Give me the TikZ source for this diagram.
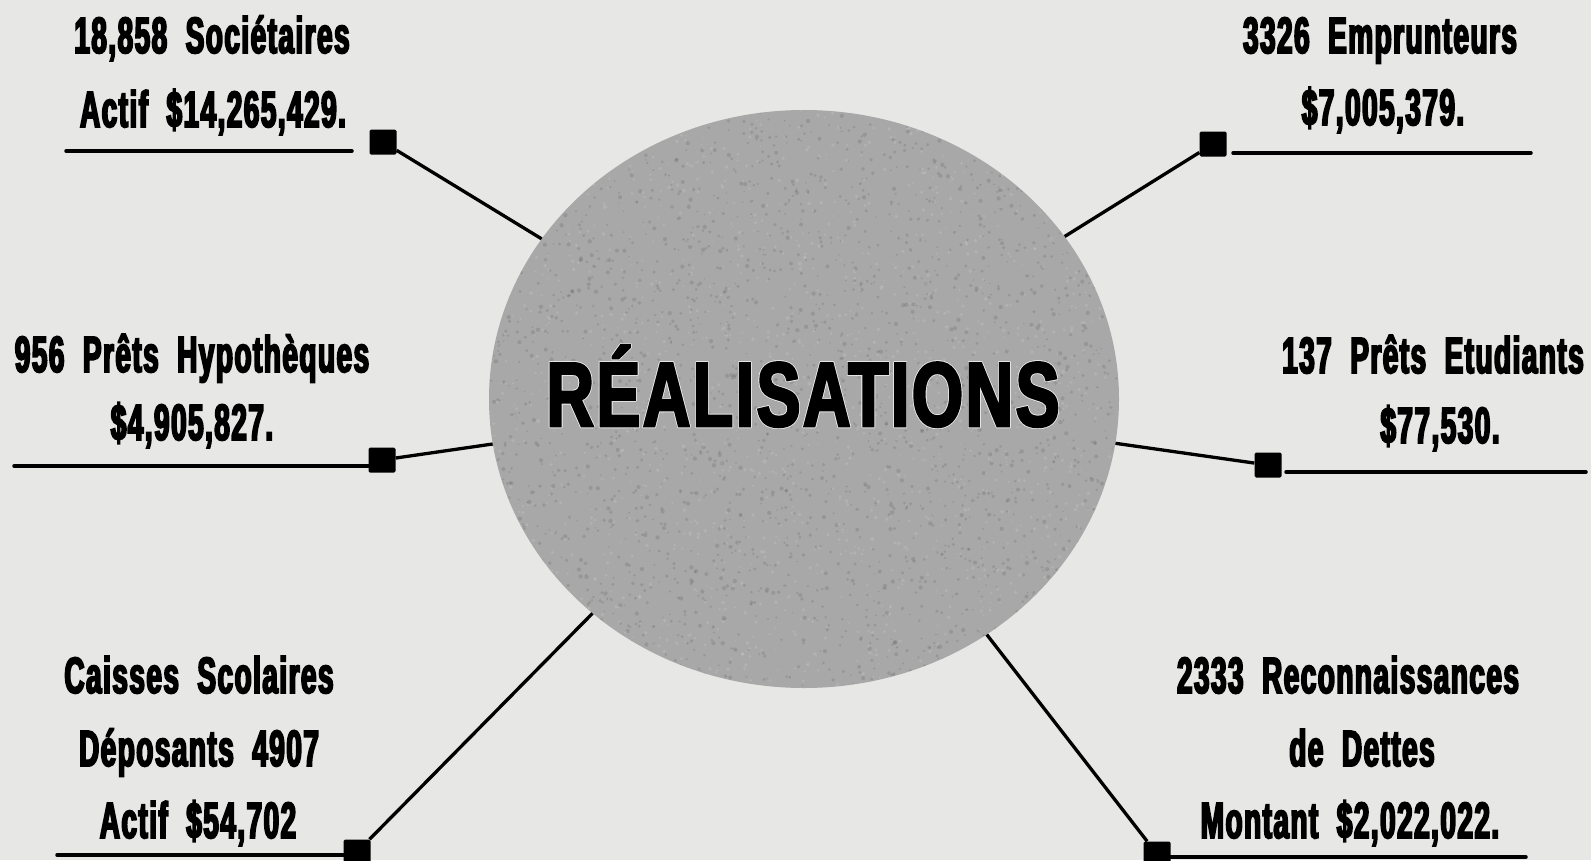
\documentclass[tikz,border=0pt]{standalone}
\usepackage{fontspec}
\usepackage{contour}
\usetikzlibrary{shapes.geometric}
\newfontfamily\labfont{Liberation Sans}[FakeStretch=0.55, LetterSpace=2.8, WordSpace=2.0, BoldFeatures={FakeBold=3.5}]
\newfontfamily\titlefont{Liberation Sans}[FakeStretch=0.72, LetterSpace=3, BoldFeatures={FakeBold=3}]
\definecolor{paper}{RGB}{231,231,229}
\definecolor{disc}{RGB}{168,168,168}
\contourlength{0.7pt}
\begin{document}
\begin{tikzpicture}[x=1pt,y=-1pt,
  lab/.style={anchor=base, inner sep=0pt, font=\labfont\bfseries\fontsize{51}{51}\selectfont},
  sq/.style={fill=black, minimum width=27pt, minimum height=25pt, inner sep=0pt, rounded corners=1.5pt},
  conn/.style={line width=3.3pt},
  rulel/.style={line width=3.5pt, line cap=round}]
\useasboundingbox (0,0) rectangle (1591,860);
\fill[paper] (0,0) rectangle (1591,860);
% central disc
\node[ellipse, fill=disc, minimum width=630pt, minimum height=578pt, inner sep=0pt] (C) at (804,399) {};
\begin{scope}
  \clip (804,399) ellipse [x radius=315, y radius=289];
  \pgfmathsetseed{7}
  \foreach \i in {1,...,2500}{
    \fill[black, opacity=0.10] ({804+rand*315},{399+rand*289}) circle [radius={0.8+1.4*rnd}];
  }
  \foreach \i in {1,...,1500}{
    \fill[white, opacity=0.12] ({804+rand*315},{399+rand*289}) circle [radius={0.8+1.2*rnd}];
  }
\end{scope}
\node[anchor=base, inner sep=0pt, font=\titlefont\bfseries\fontsize{91}{91}\selectfont] (title) at (803,426) {\contour{paper}{RÉALISATIONS}};
% squares
\node[sq] (sTL) at (383,142) {};
\node[sq] (sTR) at (1213,144) {};
\node[sq] (sML) at (382,460) {};
\node[sq] (sMR) at (1268,465) {};
\node[sq] (sBL) at (357,852) {};
\node[sq] (sBR) at (1157,854) {};
% connectors
\draw[conn] (sTL) -- (C);
\draw[conn] (sTR) -- (C);
\draw[conn] (sML) -- (C);
\draw[conn] (sMR) -- (C);
\draw[conn] (sBL) -- (C);
\draw[conn] (sBR) -- (C);
% underlines
\coordinate (uTLa) at (66,151);  \coordinate (uTLb) at (352,151);
\coordinate (uTRa) at (1233,153); \coordinate (uTRb) at (1531,153);
\coordinate (uMLa) at (14,466);  \coordinate (uMLb) at (sML.west);
\coordinate (uMRa) at (1286,472); \coordinate (uMRb) at (1586,472);
\coordinate (uBLa) at (57,855);  \coordinate (uBLb) at (sBL.west);
\coordinate (uBRa) at (sBR.east); \coordinate (uBRb) at (1526,857);
\draw[rulel] (uTLa) -- (uTLb);
\draw[rulel] (uTRa) -- (uTRb);
\draw[rulel] (uMLa) -- (uMLb |- uMLa);
\draw[rulel] (uMRa) -- (uMRb);
\draw[rulel] (uBLa) -- (uBLb |- uBLa);
\draw[rulel] (uBRa |- uBRb) -- (uBRb);
% labels
\node[lab] (tl1) at (212,53) {18,858 Sociétaires};
\node[lab] (tl2) at (213,127) {Actif \$14,265,429.};
\node[lab] (tr1) at (1380,53) {3326 Emprunteurs};
\node[lab] (tr2) at (1383,125) {\$7,005,379.};
\node[lab] (ml1) at (192,372) {956 Prêts Hypothèques};
\node[lab] (ml2) at (192,440) {\$4,905,827.};
\node[lab] (mr1) at (1433,373) {137 Prêts Etudiants};
\node[lab] (mr2) at (1440,443) {\$77,530.};
\node[lab] (bl1) at (199,693) {Caisses Scolaires};
\node[lab] (bl2) at (199,766) {Déposants 4907};
\node[lab] (bl3) at (198,838) {Actif \$54,702};
\node[lab] (br1) at (1348,693) {2333 Reconnaissances};
\node[lab] (br2) at (1362,766) {de Dettes};
\node[lab] (br3) at (1350,838) {Montant \$2,022,022.};
\end{tikzpicture}
\end{document}
